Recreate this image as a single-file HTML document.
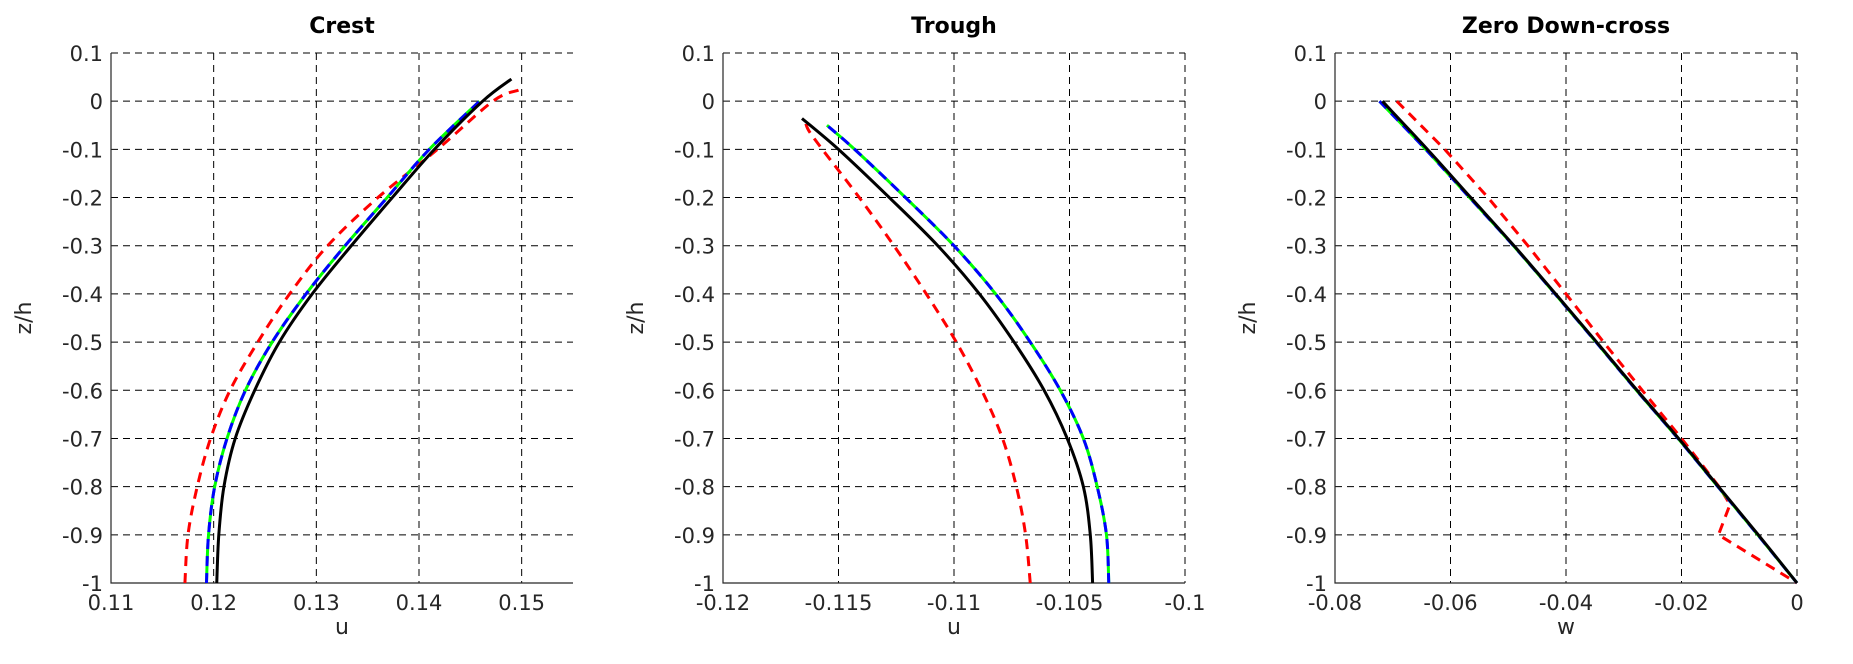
<!DOCTYPE html>
<html><head><meta charset="utf-8"><style>
html,body{margin:0;padding:0;background:#fff;}
svg{display:block;font-family:"DejaVu Sans","Liberation Sans",sans-serif;}
</style></head><body>
<svg id="fig" width="1853" height="664" viewBox="0 0 1853 664"></svg>
<script>
// ---- data ----
const zTicks = [0.1,0,-0.1,-0.2,-0.3,-0.4,-0.5,-0.6,-0.7,-0.8,-0.9,-1];
const zTickLabels = ["0.1","0","-0.1","-0.2","-0.3","-0.4","-0.5","-0.6","-0.7","-0.8","-0.9","-1"];

const crestXTicks = [0.11,0.12,0.13,0.14,0.15];
const crestXLabels = ["0.11","0.12","0.13","0.14","0.15"];
const crestBlackZ = [-1,-0.9,-0.8,-0.7,-0.6,-0.5,-0.4,-0.3,-0.2,-0.1,0,0.046];
const crestBlackU = [0.1203,0.1205,0.1210,0.1221,0.1240,0.1264,0.1296,0.1334,0.1374,0.1415,0.1462,0.1490];
const crestBlueZ = [-1,-0.9,-0.8,-0.7,-0.6,-0.5,-0.4,-0.3,-0.2,-0.1,0];
const crestBlueU = [0.1193,0.1195,0.1201,0.1213,0.1231,0.1257,0.1290,0.1328,0.1369,0.1410,0.1459];
const crestRedZ = [-1,-0.9,-0.8,-0.7,-0.6,-0.5,-0.4,-0.3,-0.2,-0.1,0,0.023];
const crestRedU = [0.1172,0.1175,0.1184,0.1197,0.1216,0.1243,0.1274,0.1311,0.1360,0.1418,0.1472,0.1497];

const troughXTicks = [-0.12,-0.115,-0.11,-0.105,-0.1];
const troughXLabels = ["-0.12","-0.115","-0.11","-0.105","-0.1"];
const troughBlackZ = [-1,-0.9,-0.8,-0.7,-0.6,-0.5,-0.4,-0.3,-0.2,-0.1,-0.036];
const troughBlackU = [-0.1040,-0.1041,-0.1044,-0.1051,-0.1061,-0.1074,-0.1089,-0.1107,-0.1128,-0.1150,-0.11658];
const troughBlueZ = [-1,-0.9,-0.8,-0.7,-0.6,-0.5,-0.4,-0.3,-0.2,-0.1,-0.05];
const troughBlueU = [-0.1033,-0.1034,-0.1038,-0.1044,-0.1054,-0.1067,-0.1082,-0.1100,-0.1121,-0.1143,-0.1155];
const troughRedZ = [-1,-0.9,-0.8,-0.7,-0.6,-0.5,-0.4,-0.3,-0.2,-0.1,-0.06,-0.04];
const troughRedU = [-0.1067,-0.1069,-0.1073,-0.1079,-0.1088,-0.1099,-0.1112,-0.1126,-0.1141,-0.1157,-0.1163,-0.11644];

const zeroXTicks = [-0.08,-0.06,-0.04,-0.02,0];
const zeroXLabels = ["-0.08","-0.06","-0.04","-0.02","0"];
const zeroBlackZ = [0,-0.1,-0.2,-0.3,-0.4,-0.5,-0.6,-0.7,-0.8,-0.9,-1];
const zeroBlackW = [-0.0718,-0.0640,-0.0565,-0.0490,-0.0418,-0.0347,-0.0277,-0.0205,-0.0136,-0.0067,0];
const zeroBlueZ = [0,-0.1,-0.2,-0.3,-0.4,-0.5,-0.6,-0.7,-0.8,-0.9,-1];
const zeroBlueW = [-0.0723,-0.0643,-0.0567,-0.0491,-0.0419,-0.0348,-0.0278,-0.0206,-0.0137,-0.0068,0];
const zeroRedZ = [0,-0.1,-0.2,-0.3,-0.4,-0.5,-0.6,-0.7,-0.8,-0.837,-0.9,-1];
const zeroRedW = [-0.0693,-0.0610,-0.0535,-0.0466,-0.0400,-0.0335,-0.0268,-0.0200,-0.0135,-0.0116,-0.0136,0];

// ---- drawing ----
const NS = "http://www.w3.org/2000/svg";
const svg = document.getElementById("fig");
function mk(tag, attrs, parent){
  const e = document.createElementNS(NS, tag);
  for (const k in attrs) e.setAttribute(k, attrs[k]);
  (parent||svg).appendChild(e);
  return e;
}
const TOP = 53, BOT = 583, W = 462;
function yScale(z){ return BOT - (z - (-1)) / 1.1 * (BOT - TOP); }

function smoothPath(pts){
  let d = "M" + pts[0][0].toFixed(2) + "," + pts[0][1].toFixed(2);
  for (let i = 0; i < pts.length - 1; i++){
    const p0 = pts[i-1] || pts[i], p1 = pts[i], p2 = pts[i+1], p3 = pts[i+2] || p2;
    const c1x = p1[0] + (p2[0]-p0[0])/6, c1y = p1[1] + (p2[1]-p0[1])/6;
    const c2x = p2[0] - (p3[0]-p1[0])/6, c2y = p2[1] - (p3[1]-p1[1])/6;
    d += " C" + c1x.toFixed(2)+","+c1y.toFixed(2)+" "+c2x.toFixed(2)+","+c2y.toFixed(2)+" "+p2[0].toFixed(2)+","+p2[1].toFixed(2);
  }
  return d;
}
function linePath(pts){
  return "M" + pts.map(p => p[0].toFixed(2)+","+p[1].toFixed(2)).join(" L");
}

function panel(key, left, xmin, xmax, xTicks, xLabels, title, xlabel, series){
  const g = mk("g", {});
  
  
  const xs = v => left + (v - xmin) / (xmax - xmin) * W;
  xTicks.forEach((t,i) => {
    const x = xs(t);
    const ln = mk("line", {x1:x, y1:TOP, x2:x, y2:BOT, stroke:"#000", "stroke-width":1, "stroke-dasharray":"7,5"}, g);
    
    
    const tx = mk("text", {x:x, y:BOT+27, "text-anchor":"middle", "font-size":21, fill:"#262626"}, g);
    tx.textContent = xLabels[i];
    
    
  });
  zTicks.forEach((t,i) => {
    const y = yScale(t);
    const ln = mk("line", {x1:left, y1:y, x2:left+W, y2:y, stroke:"#000", "stroke-width":1, "stroke-dasharray":"7,5"}, g);
    
    
    const tx = mk("text", {x:left-8, y:y+8, "text-anchor":"end", "font-size":21, fill:"#262626"}, g);
    tx.textContent = zTickLabels[i];
    
    
  });
  const ax = mk("path", {d:"M"+left+","+TOP+" L"+left+","+BOT+" L"+(left+W)+","+BOT, fill:"none", stroke:"#262626", "stroke-width":1.2}, g);
  
  
  series.forEach(s => {
    const pts = s.z.map((z,i) => [xs(s.v[i]), yScale(z)]);
    const attrs = {d:(s.lin ? linePath(pts) : smoothPath(pts)), fill:"none", stroke:s.color, "stroke-width":3, "stroke-linejoin":"round"};
    if (s.dash) attrs["stroke-dasharray"] = s.dash;
    const p = mk("path", attrs, g);
    
    
  });
  const ti = mk("text", {x:left+W/2, y:33, "text-anchor":"middle", "font-size":22, "font-weight":"bold", fill:"#000"}, g);
  ti.textContent = title;
  
  
  const xl = mk("text", {x:left+W/2, y:634, "text-anchor":"middle", "font-size":22, fill:"#262626"}, g);
  xl.textContent = xlabel;
  
  
  const yl = mk("text", {x:0, y:0, "text-anchor":"middle", "font-size":22, fill:"#262626", transform:"translate("+(left-80)+","+((TOP+BOT)/2)+") rotate(-90)"}, g);
  yl.textContent = "z/h";
  
  
}

panel("crest", 111, 0.11, 0.155, crestXTicks, crestXLabels, "Crest", "u", [
  {name:"red-series", z:crestRedZ, v:crestRedU, color:"#ff0000", dash:"10,7"},
  {name:"green-series", z:crestBlueZ, v:crestBlueU, color:"#00ff00"},
  {name:"blue-series", z:crestBlueZ, v:crestBlueU, color:"#0000ff", dash:"10,7"},
  {name:"black-series", z:crestBlackZ, v:crestBlackU, color:"#000000"}
]);
panel("trough", 723, -0.12, -0.1, troughXTicks, troughXLabels, "Trough", "u", [
  {name:"red-series", z:troughRedZ, v:troughRedU, color:"#ff0000", dash:"10,7"},
  {name:"green-series", z:troughBlueZ, v:troughBlueU, color:"#00ff00"},
  {name:"blue-series", z:troughBlueZ, v:troughBlueU, color:"#0000ff", dash:"10,7"},
  {name:"black-series", z:troughBlackZ, v:troughBlackU, color:"#000000"}
]);
panel("zero-down-cross", 1335, -0.08, 0, zeroXTicks, zeroXLabels, "Zero Down-cross", "w", [
  {name:"red-series", z:zeroRedZ, v:zeroRedW, color:"#ff0000", dash:"10,7", lin:true},
  {name:"green-series", z:zeroBlueZ, v:zeroBlueW, color:"#00ff00"},
  {name:"blue-series", z:zeroBlueZ, v:zeroBlueW, color:"#0000ff", dash:"10,7"},
  {name:"black-series", z:zeroBlackZ, v:zeroBlackW, color:"#000000"}
]);
</script>
</body></html>
